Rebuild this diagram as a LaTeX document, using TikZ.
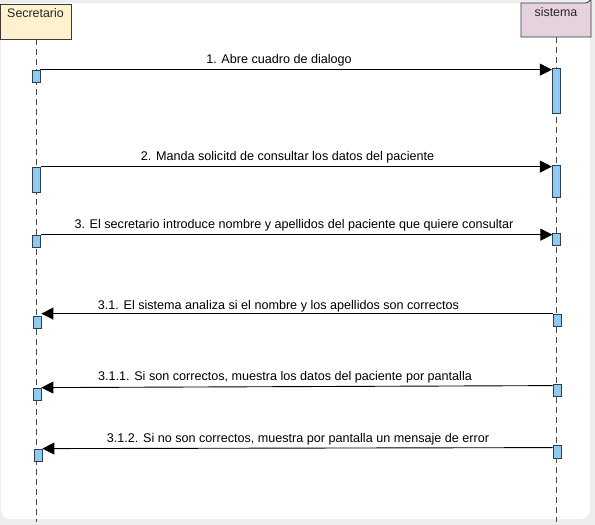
\documentclass[tikz,border=0pt]{standalone}
\usepackage{fontspec}
\setmainfont{Liberation Sans}
\usetikzlibrary{arrows.meta,shapes.misc}
\definecolor{bggray}{HTML}{EDEDED}
\definecolor{actorA}{HTML}{FDF1CF}
\definecolor{actorB}{HTML}{E6D1DE}
\definecolor{actfill}{HTML}{8FCBEF}
\definecolor{actdraw}{HTML}{2E4050}
\definecolor{headdraw}{HTML}{3A3A3A}
\tikzset{
  x=1pt, y=-1pt,
  headA/.style={chamfered rectangle, chamfered rectangle corners=north east, chamfered rectangle xsep=4pt, chamfered rectangle ysep=4pt, draw=headdraw, fill=actorA, line width=0.8pt, minimum width=71pt, minimum height=35pt, inner sep=0pt},
  headtext/.style={font=\fontsize{12.4}{14}\selectfont, text=black!85, anchor=base},
  lifeline/.style={draw=black!70, line width=0.8pt, dash pattern=on 6pt off 4pt},
  actbox/.style={draw=actdraw, fill=actfill, line width=0.8pt, minimum width=8pt, inner sep=0pt},
  msgline/.style={draw=black, line width=0.9pt, -{Triangle[length=12pt,width=12pt]}},
  msgtext/.style={font=\fontsize{12.6}{14}\selectfont, anchor=base, inner sep=0pt}
}
\begin{document}
\begin{tikzpicture}
\useasboundingbox (0,0) rectangle (595,525);
\fill[bggray] (0,0) rectangle (595,525);
\fill[white, rounded corners=9pt] (1,3) rectangle (590,519);

% actor heads
\node[headA] (hA) at (35.5,21.5) {};
\node[headtext] (tA) at (35.5,17) {Secretario};
\draw[draw=headdraw, fill=actorB, line width=0.8pt] (521,37) -- (521,3) -- (585,3) arc[start angle=90, end angle=0, radius=6] -- (591,37) -- cycle;
\node[inner sep=0pt, minimum width=70pt, minimum height=34pt] (hB) at (556,20) {};
\node[headtext] (tB) at (556,16) {sistema};

% lifelines
\coordinate (endA) at (36,522);
\coordinate (endB) at (556,522);
\path[lifeline] (hA.south) ++(0.5,0) -- (endA);
\path[lifeline] (hB.south) -- (endB);

% activations
\node[actbox, minimum height=12.5pt] (la1) at (36,76.3) {};
\node[actbox, minimum height=45pt] (ra1) at (556.3,90.5) {};
\node[actbox, minimum height=25pt] (la2) at (36.5,179.5) {};
\node[actbox, minimum height=32pt] (ra2) at (556.3,181) {};
\node[actbox, minimum height=12.5pt] (la3) at (36.5,241.3) {};
\node[actbox, minimum height=12pt] (ra3) at (556.8,239) {};
\node[actbox, minimum height=12pt] (la4) at (37,322) {};
\node[actbox, minimum height=12pt] (ra4) at (557,320) {};
\node[actbox, minimum height=12pt] (la5) at (37,394) {};
\node[actbox, minimum height=12pt] (ra5) at (557,390) {};
\node[actbox, minimum height=12pt] (la6) at (38,455) {};
\node[actbox, minimum height=13pt] (ra6) at (557,451.5) {};

% messages
\draw[msgline] (la1.north east) -- (la1.north east -| ra1.west);
\node[msgtext] (m1) at (279,63) {1. Abre cuadro de dialogo};

\draw[msgline] (la2.north east) -- (la2.north east -| ra2.west);
\node[msgtext] (m2) at (287.5,160) {2. Manda solicitd de consultar los datos del paciente};

\draw[msgline] (la3.north east) -- (la3.north east -| ra3.west);
\node[msgtext] (m3) at (294,228) {3. El secretario introduce nombre y apellidos del paciente que quiere consultar};

\draw[msgline] (ra4.north west) -- (ra4.north west -| la4.east);
\node[msgtext] (m4) at (278.5,309) {3.1. El sistema analiza si el nombre y los apellidos son correctos};

\draw[msgline] (ra5.north west) ++(0,2) -- (la5.north east);
\node[msgtext] (m5) at (285,380) {3.1.1. Si son correctos, muestra los datos del paciente por pantalla};

\draw[msgline] (ra6.north west) ++(0,3) -- (la6.north east);
\node[msgtext] (m6) at (298,442) {3.1.2. Si no son correctos, muestra por pantalla un mensaje de error};
\end{tikzpicture}
\end{document}
